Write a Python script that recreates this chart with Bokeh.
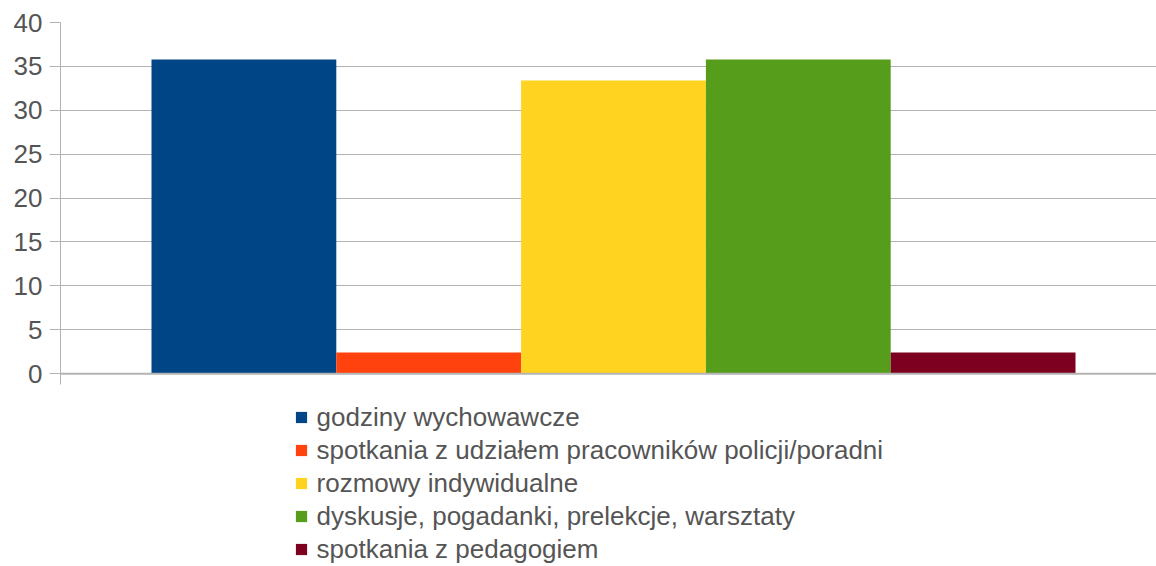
from bokeh.plotting import figure
from bokeh.models import Range1d, FixedTicker, Legend, LegendItem, Span
from bokeh.embed import file_html
from bokeh.resources import INLINE

series = [
    "godziny wychowawcze",
    "spotkania z udziałem pracowników policji/poradni",
    "rozmowy indywidualne",
    "dyskusje, pogadanki, prelekcje, warsztaty",
    "spotkania z pedagogiem",
]
values = [35.8, 2.4, 33.4, 35.8, 2.4]
colors = ["#004586", "#ff420e", "#ffd320", "#579d1c", "#7e0021"]
y_ticks = [0, 5, 10, 15, 20, 25, 30, 35, 40]

FONT = "Liberation Sans"
TXT = "#555555"
GRID = "#b3b3b3"

W, H = 1156, 566
FRAME_L, FRAME_T, ZERO_Y = 60, 22.3, 373.3
ppu = (ZERO_Y - FRAME_T) / 40.0
y_start = -(H - ZERO_Y) / ppu
bar_px = 184.8
center = (len(series) - 1) / 2
x_start = center - (613 - FRAME_L) / bar_px
x_end = center + (W - 613) / bar_px

p = figure(width=W, height=H, x_range=Range1d(x_start, x_end), y_range=Range1d(y_start, 40),
           output_backend="svg", toolbar_location=None,
           min_border_left=FRAME_L, min_border_right=0, min_border_top=22,
           min_border_bottom=0)
p.outline_line_color = None
p.background_fill_color = "white"
p.border_fill_color = "white"

p.xaxis.visible = False
p.xgrid.visible = False
p.ygrid.ticker = FixedTicker(ticks=y_ticks)
p.ygrid.grid_line_color = GRID
p.ygrid.grid_line_width = 1

p.yaxis.ticker = FixedTicker(ticks=y_ticks)
p.yaxis.bounds = (-11 / ppu, 40)
p.yaxis.axis_line_color = GRID
p.yaxis.major_tick_line_color = GRID
p.yaxis.major_tick_out = 11
p.yaxis.major_tick_in = 0
p.yaxis.minor_tick_line_color = None
p.yaxis.major_label_text_font = FONT
p.yaxis.major_label_text_font_size = "26px"
p.yaxis.major_label_text_color = TXT
p.yaxis.major_label_standoff = 7

p.add_layout(Span(location=0, dimension="width", line_color=GRID, line_width=2))

items = []
for i, (name, v, c) in enumerate(zip(series, values, colors)):
    r = p.vbar(x=[i], top=[v], width=1, fill_color=c, line_color=None)
    items.append(LegendItem(label=name, renderers=[r]))

legend = Legend(items=items, location=(233.6, 0.5), orientation="vertical",
                glyph_width=14, glyph_height=14, label_height=33, spacing=0,
                padding=0, margin=0, border_line_color=None, background_fill_alpha=0,
                label_text_font=FONT, label_text_font_size="26px", label_text_color=TXT,
                label_standoff=9)
p.add_layout(legend)

open("out.html", "w").write(file_html(p, INLINE))
